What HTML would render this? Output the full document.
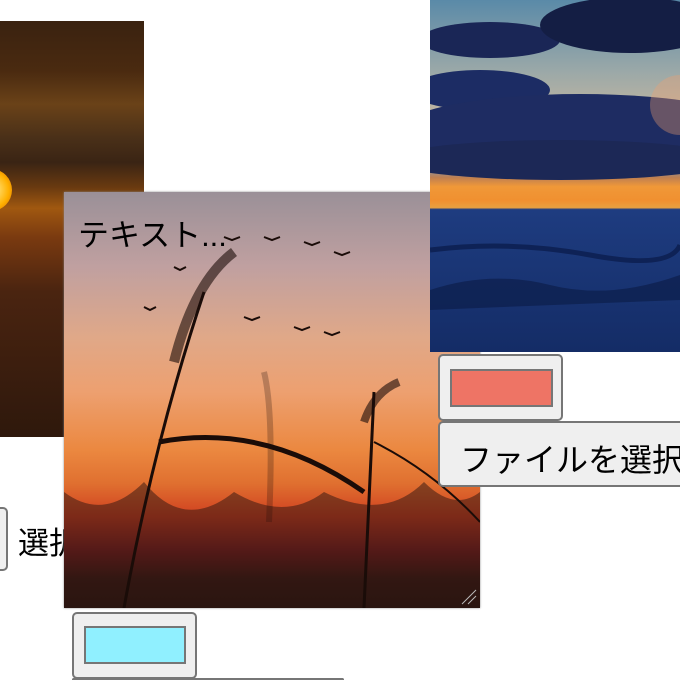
<!DOCTYPE html>
<html><head><meta charset="utf-8">
<style>
html,body{margin:0;padding:0;width:680px;height:680px;overflow:hidden;background:#fff;font-family:"Liberation Sans","Noto Sans CJK JP",sans-serif}
#wrap{position:relative;width:680px;height:680px;overflow:hidden}
.abs{position:absolute}
.btn{position:absolute;background:#efefef;border:2px solid #767676;border-radius:5px;box-sizing:border-box}
.sw{position:absolute;border:2px solid #767676;box-sizing:border-box}
</style></head><body><div id="wrap">
<div class="abs" style="left:0;top:21px;width:144px;height:416px;background:linear-gradient(#3a2210 0%,#4a2a10 12%,#6a4218 20%,#4a3018 28%,#3a2414 34%,#6a3a10 40%,#a05810 45%,#7a3a10 52%,#4a2410 65%,#2e180c 100%)">
 <div class="abs" style="left:-30px;top:148px;width:42px;height:42px;border-radius:50%;background:radial-gradient(#fff2a0,#ffb000 60%,#d06000)"></div>
</div>
<div class="btn" style="left:-10px;top:507px;width:18px;height:64px"></div>
<div class="abs" style="left:18px;top:518px;font-size:31px;color:#000">選択</div>

<div class="abs" style="left:64px;top:192px;width:416px;height:416px;overflow:hidden;box-shadow:0 0 2px #888;background:linear-gradient(#9a9098 0%,#c0a0a0 18%,#e0a888 35%,#eda070 48%,#eb8840 62%,#e07030 70%,#d04020 78%,#802020 86%,#3a1a14 93%,#2a1610 100%)">
 <svg width="416" height="416" style="position:absolute;left:0;top:0" fill="none" stroke="#1a0c08">
  <path d="M0 416 L0 300 Q40 330 80 290 Q120 340 170 300 Q220 330 260 300 Q320 330 360 290 Q390 320 416 300 L416 416Z" fill="#2a1410" opacity="0.5" stroke="none"/>
  <path d="M60 416 Q90 250 140 100" stroke-width="3"/>
  <path d="M110 170 Q130 90 170 60" stroke-width="10" opacity="0.6"/>
  <path d="M300 416 Q305 300 310 200" stroke-width="3"/>
  <path d="M300 230 Q310 200 335 190" stroke-width="8" opacity="0.6"/>
  <path d="M95 250 Q200 230 300 300" stroke-width="5"/>
  <path d="M310 250 Q370 280 416 330" stroke-width="2"/>
  <path d="M200 180 Q210 220 205 330" stroke-width="6" opacity="0.25"/>
  <g stroke-width="2"><path d="M160 45 l8 3 l8-3"/><path d="M200 45 l8 3 l8-3"/><path d="M240 50 l8 3 l8-3"/><path d="M270 60 l8 3 l8-3"/><path d="M180 125 l8 3 l8-3"/><path d="M230 135 l8 3 l8-3"/><path d="M260 140 l8 3 l8-3"/><path d="M110 75 l6 3 l6-3"/><path d="M80 115 l6 3 l6-3"/></g>
  <g stroke="#bbb" stroke-width="1"><path d="M398 412 L412 398"/><path d="M404 412 L412 404"/></g>
 </svg>
 <div class="abs" style="left:14px;top:18px;font-size:31px;color:#000">テキスト...</div>
</div>

<div class="abs" style="left:430px;top:0;width:250px;height:352px;overflow:hidden;background:linear-gradient(#5a8aa8 0%,#9aa8a8 20%,#c8b8a0 35%,#8a90a0 48%,#c08050 50.5%,#f09838 53%,#f09030 57%,#e8a040 59%,#1e3c80 59.5%,#1a3676 75%,#142c66 100%)">
 <svg width="250" height="352" style="position:absolute;left:0;top:0">
  <ellipse cx="60" cy="40" rx="70" ry="18" fill="#1a2656"/>
  <ellipse cx="200" cy="25" rx="90" ry="28" fill="#141e44"/>
  <ellipse cx="50" cy="90" rx="70" ry="20" fill="#1c2c64"/>
  <ellipse cx="150" cy="130" rx="180" ry="36" fill="#1e2c62"/>
  <ellipse cx="130" cy="160" rx="170" ry="20" fill="#1c2856"/>
  <circle cx="250" cy="105" r="30" fill="#f0a070" opacity="0.35"/>
  <path d="M0 290 Q60 270 120 285 T250 275 L250 300 Q120 305 0 310Z" fill="#0a1a44" opacity="0.6"/>
  <path d="M0 250 Q80 240 160 255 T250 245" stroke="#0e2256" stroke-width="5" fill="none"/>
 </svg>
</div>
<div class="btn" style="left:438px;top:354px;width:125px;height:67px">
 <div class="sw" style="left:10px;top:13px;width:103px;height:38px;background:#ee7465"></div></div>
<div class="btn" style="left:438px;top:421px;width:242px;height:66px;border-right:none;border-radius:5px 0 0 5px;font-size:32px;padding:12px 0 0 20px;color:#000;white-space:nowrap;overflow:hidden">ファイルを選択</div>

<div class="btn" style="left:72px;top:612px;width:125px;height:67px">
 <div class="sw" style="left:10px;top:12px;width:102px;height:38px;background:#90f0ff"></div></div>
<div class="btn" style="left:72px;top:678px;width:272px;height:2px;border-bottom:none;border-radius:5px 5px 0 0"></div>
</div></body></html>
